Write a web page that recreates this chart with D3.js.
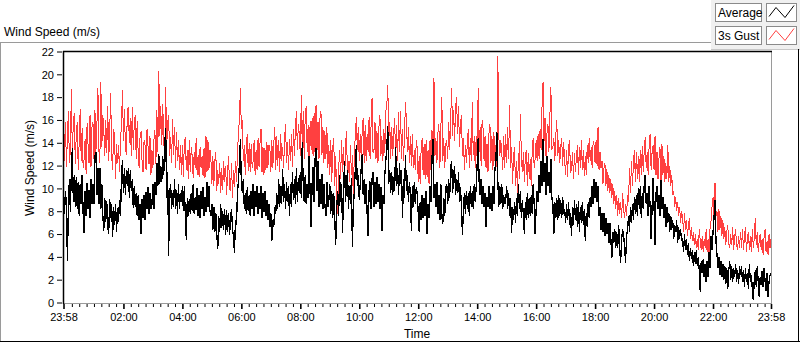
<!DOCTYPE html>
<html>
<head>
<meta charset="utf-8">
<script src="https://cdn.jsdelivr.net/npm/d3@7"></script>
<style>
  body { margin: 0; background: #fff; }
  svg text { font-family: "Liberation Sans", Arial, sans-serif; fill: #000; }
</style>
</head>
<body>
<div id="master"></div>
<script>
// one reading every 2 minutes from 23:58, one row per hour (last row carries the end point)
let stepMinutes = 2
let gustByHour = [
  [17.6,12.4,15.8,11.9,14.6,16.8,12.2,13.4,18.7,12.8,15.9,16.6,12.1,14.8,15.8,11.6,14.2,17.0,12.4,15.3,11.8,12.6,14.3,11.3,15.7,13.8,12.2,16.4,11.9,15.4],
  [15.8,12.6,16.9,13.2,15.6,18.8,13.4,12.2,19.3,13.6,16.4,15.2,12.8,16.0,13.1,17.2,12.4,14.9,18.4,12.9,11.6,15.2,14.5,10.8,13.9,12.2,13.8,11.4,14.2,15.6],
  [18.6,14.2,17.0,13.6,12.9,16.8,17.1,14.0,16.2,12.8,17.1,13.4,15.6,16.4,12.6,15.9,13.1,11.8,14.8,14.9,12.2,11.4,14.2,13.8,11.6,15.2,13.7,12.1,14.6,11.2],
  [13.4,11.8,14.2,15.1,12.1,16.9,13.2,20.3,14.6,17.2,13.8,17.4,14.2,12.6,18.9,13.6,15.7,16.4,12.8,14.5,12.2,16.1,12.9,15.4,11.8,14.9,12.4,14.2,11.6,13.8],
  [11.2,13.8,11.0,14.1,14.5,11.6,13.4,10.8,14.2,11.4,13.6,12.8,10.9,13.2,11.8,14.4,11.2,12.9,11.0,13.6,11.8,12.8,11.1,13.5,10.9,14.6,11.4,14.2,11.6,13.4],
  [12.6,10.4,12.8,10.2,12.4,13.2,9.8,11.6,10.4,12.2,9.6,11.8,9.9,12.4,10.6,12.0,9.4,11.5,12.8,10.0,9.8,12.2,9.2,11.6,10.1,12.4,10.6,13.0,14.8,16.0],
  [18.8,15.2,16.0,12.4,13.8,11.2,13.6,14.8,11.5,14.0,11.4,13.9,11.8,12.4,14.2,11.2,13.4,11.6,14.4,11.9,14.0,15.2,11.4,13.6,11.2,13.5,11.6,14.1,11.8,13.8],
  [13.6,11.4,14.2,11.8,13.9,15.4,11.6,14.6,12.0,14.2,11.4,14.8,12.4,13.6,11.8,14.5,15.6,12.2,14.1,11.6,14.3,12.4,14.8,11.9,15.2,12.8,15.2,16.8,13.4,15.6],
  [14.8,12.8,18.2,13.6,16.8,12.6,16.4,17.2,13.2,15.6,12.4,15.9,13.4,16.2,12.8,16.6,13.1,17.3,13.4,15.8,12.6,16.1,16.8,12.9,15.4,12.2,15.0,12.6,15.4,11.8],
  [13.8,11.2,14.2,10.6,13.6,14.4,10.2,12.8,9.4,7.8,11.6,13.4,10.8,14.2,11.4,13.6,10.2,13.8,15.0,11.0,12.4,10.6,13.8,11.2,12.9,8.6,13.6,14.4,16.3,13.4],
  [15.4,12.4,14.8,12.6,15.1,16.2,12.2,15.6,12.4,14.8,13.2,16.3,12.6,15.6,17.9,13.1,13.4,15.8,12.6,15.0,12.2,15.4,16.4,12.8,14.6,12.4,15.2,13.1,16.8,17.3],
  [19.1,14.2,15.8,12.6,15.4,12.8,14.8,16.2,12.2,15.6,12.4,16.7,13.2,16.8,12.6,15.2,12.4,14.6,17.6,15.9,13.2,15.4,12.2,14.6,12.0,14.8,11.8,13.4,11.6,14.2],
  [13.6,10.6,12.8,10.4,13.6,14.4,11.2,13.9,10.8,14.2,11.0,13.4,10.4,14.2,11.6,15.1,13.2,19.7,12.8,14.4,12.2,14.8,15.6,11.8,15.2,18.0,12.4,14.4,11.8,13.9],
  [14.2,12.6,15.8,13.4,16.1,18.8,14.6,16.9,14.2,17.0,18.0,14.8,17.2,13.6,15.8,16.4,12.8,14.4,11.6,13.8,12.2,14.1,15.2,11.8,14.4,12.4,17.6,12.9,14.6,11.8],
  [14.6,12.4,18.8,13.2,15.4,12.0,16.0,15.2,12.4,14.6,11.8,13.9,11.4,14.8,15.6,12.2,14.6,11.6,14.9,12.4,13.8,11.9,21.6,14.6,12.8,14.2,13.2,11.6,14.6,11.8],
  [14.8,12.2,15.4,12.6,17.3,11.8,13.6,10.4,12.8,13.6,10.2,12.4,9.6,13.1,10.8,16.5,12.6,11.4,13.2,10.6,12.8,13.4,10.2,13.1,10.8,12.6,10.2,13.4,14.4,11.8],
  [12.6,14.2,12.4,14.8,12.6,15.2,13.4,17.2,19.3,14.1,16.2,12.8,14.8,15.6,13.2,16.4,18.9,13.4,13.6,14.4,12.4,14.6,16.0,12.8,14.2,12.2,13.6,14.4,12.0,14.1],
  [12.4,11.2,13.4,11.0,13.6,14.2,11.4,11.6,13.2,10.8,13.1,11.4,12.8,13.8,11.2,13.6,11.8,14.2,11.6,13.4,11.1,12.8,11.2,13.8,12.2,14.4,12.4,13.6,11.8,14.1],
  [13.8,12.2,14.2,12.0,15.4,11.6,13.2,11.8,12.4,10.4,11.8,12.2,10.2,11.7,9.8,11.2,9.6,10.8,9.2,10.4,8.6,9.8,8.2,9.4,7.6,9.2,7.8,8.8,7.4,9.6],
  [8.2,7.4,8.6,7.6,9.4,8.8,11.8,9.6,12.4,10.2,12.2,13.4,10.6,13.2,10.8,12.8,10.6,13.4,11.2,13.7,11.4,13.4,14.5,11.8,13.2,11.2,13.8,14.8,11.6,13.2],
  [13.8,11.6,14.6,11.2,13.2,10.8,12.6,13.6,10.4,13.9,11.2,12.8,10.6,12.2,10.8,13.8,10.6,12.0,10.2,11.2,9.4,9.8,8.4,9.2,8.0,8.8,7.6,8.4,7.0,8.0],
  [7.4,6.2,7.8,6.4,7.2,5.8,6.8,7.4,5.6,6.6,5.4,6.2,5.0,6.0,4.8,5.6,4.6,6.4,5.4,4.6,5.8,4.4,5.6,4.8,6.4,4.4,5.6,4.2,6.6,7.2],
  [8.4,9.2,7.2,10.5,7.6,8.0,6.2,8.2,6.4,7.6,5.8,7.2,5.6,6.6,5.0,6.2,6.8,5.2,4.8,6.0,5.0,6.6,4.6,5.8,6.4,5.0,4.6,5.8,4.8,6.2],
  [4.8,6.4,4.6,5.8,6.6,4.4,5.6,6.2,4.6,5.8,4.4,6.4,4.8,5.6,7.4,5.0,6.2,4.4,5.4,6.0,4.6,5.6,4.2,5.8,6.4,4.4,5.4,4.2,6.0,4.8,5.6]
]
let averageByHour = [
  [10.2,7.8,9.8,8.4,3.6,8.6,10.8,7.9,11.6,13.5,8.8,11.2,8.4,11.0,8.2,10.6,7.6,10.4,8.6,11.2,7.8,6.1,9.8,7.6,10.5,8.2,9.9,7.4,10.8,8.6],
  [10.4,8.6,12.8,13.2,9.4,11.8,8.6,11.8,8.2,10.4,7.6,6.3,9.2,7.1,8.9,6.6,6.0,9.1,7.4,8.6,5.7,8.4,6.8,8.6,6.2,8.3,7.1,9.0,7.6,11.0],
  [12.5,9.6,11.8,9.4,11.6,10.2,11.8,9.2,11.6,9.8,10.8,8.3,10.2,8.4,9.6,7.6,9.4,7.2,8.6,6.0,9.1,7.4,9.4,7.2,9.7,8.2,10.1,7.8,9.6,8.2],
  [8.6,10.4,8.2,10.6,9.4,12.2,10.2,13.0,10.4,12.0,10.6,12.8,11.2,13.8,15.3,9.2,11.4,4.1,9.6,10.4,8.2,9.6,8.4,10.8,8.2,9.9,7.8,10.4,8.2,9.6],
  [8.8,10.2,8.0,10.2,7.6,5.5,9.2,7.6,9.1,7.8,9.6,8.0,10.4,7.8,9.2,8.1,10.0,7.6,9.4,7.4,9.8,8.2,10.1,7.6,9.2,7.9,10.6,8.4,10.2,8.0],
  [7.6,8.6,6.4,8.4,6.2,7.8,6.0,4.7,7.6,6.2,8.6,6.5,8.0,6.4,8.2,5.9,8.1,6.2,7.8,5.9,7.4,8.2,6.4,5.8,4.3,7.2,6.8,9.5,10.6,12.1],
  [14.3,10.4,9.6,10.8,8.2,9.6,7.8,10.1,8.0,9.4,7.6,9.8,8.2,10.4,7.6,9.8,8.4,10.2,7.8,9.6,8.2,10.2,7.4,9.6,7.9,9.8,7.6,9.0,7.2,8.6],
  [6.6,7.8,5.4,7.2,6.6,8.4,7.8,9.6,8.2,10.8,8.4,10.2,8.6,11.7,8.8,10.4,8.2,10.6,8.8,10.2,7.6,10.4,8.4,11.4,9.0,10.8,8.6,11.8,8.8,10.9],
  [9.6,11.4,9.2,14.1,10.2,8.8,11.2,8.6,10.4,9.2,12.8,9.6,6.6,10.4,11.9,8.8,12.6,13.5,9.8,12.4,8.4,10.8,8.6,11.3,8.2,10.4,8.6,7.6,10.6,8.4],
  [8.9,10.4,7.8,9.8,7.4,9.6,7.6,5.0,8.2,9.8,7.6,11.2,8.8,10.4,6.1,9.8,12.4,8.8,10.2,11.6,8.2,10.2,8.6,10.9,4.9,8.4,9.8,11.8,13.8,10.2],
  [11.2,9.0,10.4,11.8,13.0,9.4,10.8,8.6,10.4,7.8,5.8,9.8,10.6,8.2,10.8,11.4,8.4,10.6,8.6,11.0,8.8,10.4,8.2,10.1,6.3,9.4,8.6,11.2,12.4,13.6],
  [15.5,10.4,11.6,9.6,11.4,9.4,11.0,9.8,13.6,10.2,11.8,9.4,12.2,10.4,11.6,7.4,10.8,9.2,12.9,9.8,11.2,8.8,10.6,9.6,6.3,10.2,8.4,10.6,8.6,10.1],
  [9.6,7.8,6.2,8.8,7.2,9.4,7.4,9.2,7.6,9.8,6.0,8.6,7.4,10.2,8.8,12.6,14.3,9.2,10.4,8.4,10.6,7.8,9.4,7.2,10.4,7.6,6.9,9.2,7.6,10.1],
  [10.4,8.6,10.8,9.2,11.8,12.4,9.6,11.2,12.0,9.4,10.8,9.6,11.4,8.8,10.1,8.4,5.9,8.2,9.6,7.8,9.8,8.2,9.6,7.6,10.2,8.4,9.8,8.2,10.4,8.8],
  [10.2,12.2,14.4,10.6,9.4,10.8,8.6,10.2,8.4,9.6,6.6,9.2,8.4,10.2,8.2,9.6,8.0,10.2,8.6,11.6,12.4,14.9,10.6,8.4,10.2,8.6,10.4,8.2,9.4,8.6],
  [8.9,10.2,8.2,9.6,7.6,9.2,6.1,8.4,7.2,8.8,7.0,9.2,7.6,10.4,8.2,9.8,7.4,9.0,7.6,6.0,8.8,7.2,9.6,7.4,9.2,7.6,9.4,7.8,10.4,8.6],
  [6.0,8.2,9.8,8.8,11.2,9.6,12.4,10.2,14.3,10.6,12.2,9.4,12.8,10.2,11.4,9.6,12.6,9.2,8.6,6.0,8.8,7.4,9.2,7.2,9.4,7.6,9.0,7.4,9.2,7.8],
  [8.2,7.0,8.6,7.2,8.8,6.8,7.8,5.8,8.4,6.8,9.0,7.2,8.6,6.6,8.9,6.2,8.4,7.0,8.8,6.8,8.2,5.4,7.8,6.6,8.8,7.4,9.2,8.4,10.2,8.6],
  [10.8,9.2,10.6,8.8,10.2,7.6,8.4,6.4,7.8,6.2,7.8,5.8,7.4,6.0,7.0,5.2,7.0,5.6,3.9,6.2,5.2,6.4,4.8,6.2,4.8,6.8,4.6,3.5,5.6,6.4],
  [6.0,4.8,3.5,5.8,6.4,7.6,6.2,8.4,7.0,8.6,7.2,9.2,7.8,9.4,7.6,10.0,8.2,10.2,7.4,9.6,8.2,10.4,11.2,8.6,9.6,7.6,10.2,8.4,5.6,8.4],
  [10.9,8.4,5.0,9.6,10.2,8.2,9.4,7.6,10.7,8.2,9.2,7.4,8.6,6.6,8.4,7.0,7.8,6.2,7.6,6.4,7.2,5.6,6.8,6.2,7.2,5.2,6.6,5.6,6.4,5.4],
  [5.6,4.4,6.0,4.6,5.6,4.2,5.2,3.6,4.8,3.8,4.6,3.2,4.4,3.4,4.6,3.2,4.0,2.8,0.9,3.6,2.6,3.8,2.2,3.4,1.8,3.6,2.2,4.4,3.0,5.8],
  [4.6,6.2,7.4,9.0,5.4,4.2,3.0,4.0,2.4,3.6,2.2,3.4,2.0,3.2,1.6,3.0,1.2,2.8,3.6,2.0,3.2,1.8,3.0,2.2,3.4,1.8,2.8,1.6,3.2,2.4],
  [3.2,1.8,2.8,1.4,3.0,1.8,2.6,1.2,3.4,1.8,2.4,1.2,0.2,2.0,2.8,1.4,3.2,1.8,0.5,2.2,1.5,2.8,1.4,3.0,1.8,1.0,2.6,0.5,1.8,2.4,2.6]
]
let yTicks = [0, 2, 4, 6, 8, 10, 12, 14, 16, 18, 20, 22]
let hourLabels = ["02:00", "04:00", "06:00", "08:00", "10:00", "12:00", "14:00", "16:00", "18:00", "20:00", "22:00"]
let seriesNames = ["Average", "3s Gust"]
let seriesColors = ["#000000", "#ff4040"]

let w = 800, h = 342
let svg = d3.select("#master").append("svg").attr("width", w).attr("height", h)

let start = new Date(2020, 0, 1, 23, 58)
let end = new Date(2020, 0, 2, 23, 58)

// hour rows -> [time, value]
let toPoints = rows => rows.flatMap((row, hr) =>
  row.map((v, j) => [d3.timeMinute.offset(start, hr * 60 + j * stepMinutes), v]))
let gust = toPoints(gustByHour)
let average = toPoints(averageByHour)

let xScale = d3.scaleTime().domain([start, end]).range([63.5, 771])
let yScale = d3.scaleLinear().domain([0, 22]).range([302.5, 51.5])

// frame + legend panel
svg.append("rect").attr("x", 711).attr("y", 0).attr("width", 89).attr("height", 49).attr("fill", "#f0f0f0")
svg.append("line").attr("x1", 711).attr("x2", 800).attr("y1", 49.5).attr("y2", 49.5).attr("stroke", "#c8c8c8")
svg.append("line").attr("x1", 0).attr("x2", 711).attr("y1", 42.5).attr("y2", 42.5).attr("stroke", "#9a9a9a")
svg.append("line").attr("x1", 0.5).attr("x2", 0.5).attr("y1", 42).attr("y2", 342).attr("stroke", "#9a9a9a")
svg.append("line").attr("x1", 0).attr("x2", 800).attr("y1", 341.5).attr("y2", 341.5).attr("stroke", "#000")
svg.append("line").attr("x1", 798.5).attr("x2", 798.5).attr("y1", 49).attr("y2", 342).attr("stroke", "#000")

svg.append("text").attr("x", 4).attr("y", 36).style("font-size", "12px").text("Wind Speed (m/s)")

// plot lines, aliased like the original
let line = d3.line().x(d => xScale(d[0])).y(d => yScale(d[1]))
svg.append("path").datum(gust).attr("d", line).attr("fill", "none")
  .attr("stroke", seriesColors[1]).attr("stroke-width", 1).attr("shape-rendering", "crispEdges")
svg.append("path").datum(average).attr("d", line).attr("fill", "none")
  .attr("stroke", seriesColors[0]).attr("stroke-width", 1.3).attr("shape-rendering", "crispEdges")

// plot border
svg.append("line").attr("x1", 771.5).attr("x2", 771.5).attr("y1", 51).attr("y2", 304).attr("stroke", "#9a9a9a")
svg.append("line").attr("x1", 63).attr("x2", 772).attr("y1", 303.5).attr("y2", 303.5).attr("stroke", "#9a9a9a")
svg.append("line").attr("x1", 63).attr("x2", 772).attr("y1", 51.5).attr("y2", 51.5).attr("stroke", "#000").attr("stroke-width", 1.5)
svg.append("line").attr("x1", 63.5).attr("x2", 63.5).attr("y1", 51).attr("y2", 304).attr("stroke", "#000").attr("stroke-width", 1.5)

// y axis
let yAxis = d3.axisLeft(yScale).tickValues(yTicks).tickSize(5).tickPadding(3)
let gy = svg.append("g").attr("transform", "translate(62,0)").call(yAxis)
gy.select(".domain").remove()
gy.selectAll("text").style("font-size", "11px").attr("dy", "0.35em")

// x axis - majors at even hours plus both ends, minors every 15 min
let majors = [start].concat(hourLabels.map(l => new Date(2020, 0, 2, +l.slice(0, 2), 0))).concat([end])
let minors = d3.timeMinute.every(15).range(start, end)
  .filter(d => d.getMinutes() != 0 || d.getHours() % 2 != 0)
  .filter(d => Math.abs(xScale(d) - xScale(start)) > 3)

let gxMinor = svg.append("g").attr("transform", "translate(0,304)")
  .call(d3.axisBottom(xScale).tickValues(minors).tickSize(3).tickFormat(""))
gxMinor.select(".domain").remove()

let gx = svg.append("g").attr("transform", "translate(0,304)")
  .call(d3.axisBottom(xScale).tickValues(majors).tickSize(5).tickPadding(4).tickFormat(d3.timeFormat("%H:%M")))
gx.select(".domain").remove()
gx.selectAll("line").attr("stroke-width", 1.6)
gx.selectAll("text").style("font-size", "11px")

svg.append("text").attr("x", 417).attr("y", 338).attr("text-anchor", "middle").style("font-size", "12px").text("Time")
svg.append("text").attr("transform", "translate(34,168) rotate(-90)").attr("text-anchor", "middle")
  .style("font-size", "12px").text("Wind Speed (m/s)")

// legend
let legend = svg.append("g").attr("id", "legend")
seriesNames.forEach((name, i) => {
  let y0 = 3.5 + i * 23
  legend.append("rect").attr("x", 715.5).attr("y", y0).attr("width", 46).attr("height", 18)
    .attr("fill", "#fff").attr("stroke", "#8a8a8a")
  legend.append("text").attr("x", 718).attr("y", y0 + 13.5).style("font-size", "12px").text(name)
  legend.append("rect").attr("x", 766.5).attr("y", y0).attr("width", 30).attr("height", 18)
    .attr("fill", "#fff").attr("stroke", "#8a8a8a")
  legend.append("polyline")
    .attr("points", [[769, y0 + 13], [776, y0 + 4], [785, y0 + 14], [794, y0 + 2]].join(" "))
    .attr("fill", "none").attr("stroke", seriesColors[i]).attr("stroke-width", 1)
})
</script>
</body>
</html>
